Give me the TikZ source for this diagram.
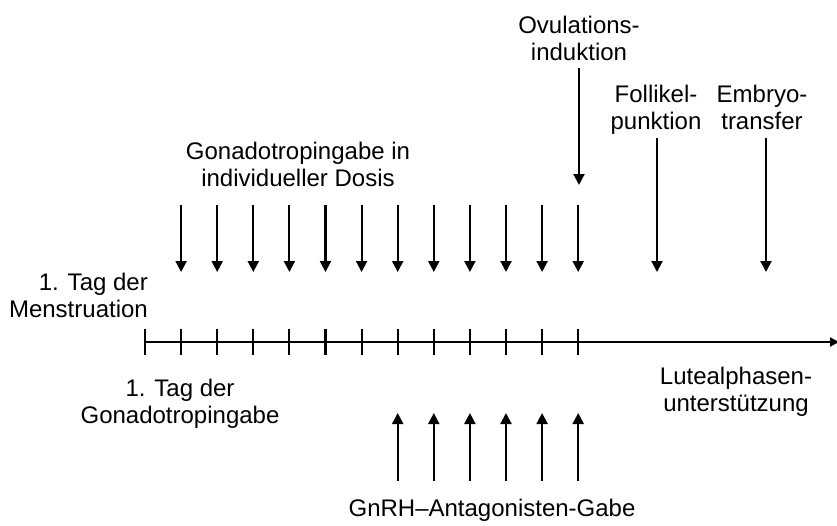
\documentclass[tikz,border=0pt]{standalone}
\usepackage{fontspec}
\setmainfont{Liberation Sans}
\usetikzlibrary{arrows.meta}
\begin{document}
\begin{tikzpicture}[x=1pt,y=-1pt,
  lbl/.style={font=\fontsize{24}{27}\selectfont, inner sep=0pt, align=center, anchor=base},
  arr/.style={line width=2.1pt, -{Triangle[length=11pt,width=11pt]}},
  axisline/.style={line width=2.1pt}]
\useasboundingbox (0,0) rectangle (837,525);
% timeline
\foreach \i in {0,...,12} { \coordinate (t\i) at ({145+36.1*\i},342); }
\coordinate (tend) at (839,342);
\draw[line width=2.1pt, -{Triangle[length=9pt,width=9pt]}] (t0) -- (tend);
\foreach \i in {0,...,12} { \draw[axisline] ([yshift=13pt]t\i) -- ([yshift=-13pt]t\i); }
% gonadotropin arrows
\foreach \i in {1,...,12} {
  \coordinate (ga\i) at ({145+36.1*\i},205);
  \coordinate (gb\i) at ({145+36.1*\i},272);
  \draw[arr] (ga\i) -- (gb\i);
}
% antagonist arrows
\foreach \i in {7,...,12} {
  \coordinate (aa\i) at ({145+36.1*\i},481);
  \coordinate (ab\i) at ({145+36.1*\i},413);
  \draw[arr] (aa\i) -- (ab\i);
}
% labels (base anchor = baseline of last line)
\node[lbl] (ovu) at (579,60) {Ovulations-\\induktion};
\node[lbl] (fol) at (656,129) {Follikel-\\punktion};
\node[lbl] (emb) at (762,129) {Embryo-\\transfer};
\node[lbl] (gon) at (298,186) {Gonadotropingabe in\\individueller Dosis};
\node[lbl, align=right, anchor=base east] (men) at (148,317) {1. Tag der\\Menstruation};
\node[lbl] (gtag) at (180,423) {1. Tag der\\Gonadotropingabe};
\node[lbl] (lut) at (736,411) {Lutealphasen-\\unterstützung};
\node[lbl] (gnrh) at (492,516) {GnRH–Antagonisten-Gabe};
% event arrows
\coordinate (ovuA) at (579,68);
\coordinate (ovuB) at (579,185);
\draw[arr] (ovuA) -- (ovuB);
\coordinate (folA) at (657,138);
\coordinate (folB) at (657,272);
\draw[arr] (folA) -- (folB);
\coordinate (embA) at (766,138);
\coordinate (embB) at (766,272);
\draw[arr] (embA) -- (embB);
\end{tikzpicture}
\end{document}
